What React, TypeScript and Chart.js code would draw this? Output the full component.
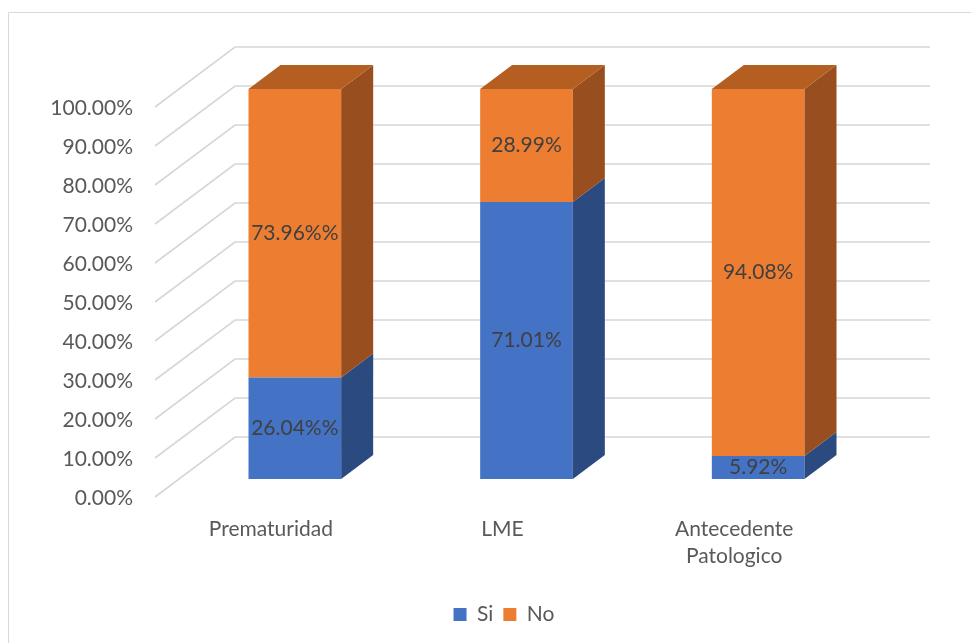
import { useEffect, useRef } from 'react';
import { Chart, registerables } from 'chart.js';

Chart.register(...registerables);

// Categories and series values (percent)
const categories = [['Prematuridad'], ['LME'], ['Antecedente', 'Patologico']];
const seriesNames = ['Si', 'No'];
const siValues = [26.04, 71.01, 5.92];
const noValues = [73.96, 28.99, 94.08];
const siLabels = ['26.04%%', '71.01%', '5.92%'];
const noLabels = ['73.96%%', '28.99%', '94.08%'];
const yMin = 0;
const yMax = 100;
const yStep = 10;

// Face colours: front, side, top
const BLUE = { front: '#4472C4', side: '#2B4A7F', top: '#3A62AA' };
const ORANGE = { front: '#ED7D31', side: '#984E1E', top: '#B45E22' };

// Pseudo-3D depth: gap in front of the bars, bar depth, total floor depth (vertical px)
const FRONT_GAP = 18;
const BAR_DEPTH = 24;
const FLOOR_DEPTH = 60;
const SLOPE = 4 / 3; // horizontal px per vertical px of depth

const FONT = 'Lato';

const framePlugin = {
  id: 'frame',
  beforeDraw(chart: any) {
    const { ctx, width, height } = chart;
    ctx.save();
    ctx.strokeStyle = '#D9D9D9';
    ctx.lineWidth = 1;
    ctx.beginPath();
    ctx.moveTo(8.5, height);
    ctx.lineTo(8.5, 12.5);
    ctx.lineTo(width, 12.5);
    ctx.stroke();
    ctx.restore();
  },
};

const wallGridPlugin = {
  id: 'wallGrid',
  beforeDatasetsDraw(chart: any) {
    const { ctx, chartArea, scales } = chart;
    const y = scales.y;
    const backDy = FLOOR_DEPTH - FRONT_GAP;
    const frontDx = FRONT_GAP * SLOPE;
    const backDx = backDy * SLOPE;
    ctx.save();
    ctx.strokeStyle = '#D6D6D6';
    ctx.lineWidth = 1.6;
    y.ticks.forEach((t: any) => {
      const py = y.getPixelForValue(t.value);
      ctx.beginPath();
      ctx.moveTo(chartArea.left - frontDx, py + FRONT_GAP);
      ctx.lineTo(chartArea.left + backDx, py - backDy);
      ctx.lineTo(chartArea.right + backDx, py - backDy);
      ctx.stroke();
    });
    ctx.restore();
  },
};

const barFacesPlugin = {
  id: 'barFaces',
  afterDatasetsDraw(chart: any) {
    const { ctx } = chart;
    const dx = BAR_DEPTH * SLOPE;
    const dy = BAR_DEPTH;
    const palettes = [BLUE, ORANGE];
    const texts = [siLabels, noLabels];
    const n = chart.data.datasets.length;
    ctx.save();
    // side and top faces
    chart.data.datasets.forEach((_ds: any, di: number) => {
      const meta = chart.getDatasetMeta(di);
      const pal = palettes[di];
      meta.data.forEach((bar: any) => {
        const { x, y, base, width } = bar.getProps(['x', 'y', 'base', 'width'], true);
        const l = x - width / 2;
        const r = x + width / 2;
        ctx.fillStyle = pal.side;
        ctx.beginPath();
        ctx.moveTo(r, y);
        ctx.lineTo(r + dx, y - dy);
        ctx.lineTo(r + dx, base - dy);
        ctx.lineTo(r, base);
        ctx.closePath();
        ctx.fill();
        if (di === n - 1) {
          ctx.fillStyle = pal.top;
          ctx.beginPath();
          ctx.moveTo(l, y);
          ctx.lineTo(l + dx, y - dy);
          ctx.lineTo(r + dx, y - dy);
          ctx.lineTo(r, y);
          ctx.closePath();
          ctx.fill();
        }
      });
    });
    // value labels on the front faces
    ctx.fillStyle = '#404040';
    ctx.font = `21px ${FONT}`;
    ctx.textAlign = 'center';
    ctx.textBaseline = 'middle';
    chart.data.datasets.forEach((_ds: any, di: number) => {
      const meta = chart.getDatasetMeta(di);
      meta.data.forEach((bar: any, i: number) => {
        const { x, y, base } = bar.getProps(['x', 'y', 'base'], true);
        ctx.fillText(texts[di][i], x, (y + base) / 2);
      });
    });
    ctx.restore();
  },
};

export default function App() {
  const canvasRef = useRef<HTMLCanvasElement | null>(null);

  useEffect(() => {
    if (!canvasRef.current) return;
    const chart = new Chart(canvasRef.current, {
      type: 'bar',
      data: {
        labels: categories,
        datasets: [
          {
            label: seriesNames[0],
            data: siValues,
            backgroundColor: BLUE.front,
            borderWidth: 0,
            barPercentage: 0.4,
            categoryPercentage: 1,
          },
          {
            label: seriesNames[1],
            data: noValues,
            backgroundColor: ORANGE.front,
            borderWidth: 0,
            barPercentage: 0.4,
            categoryPercentage: 1,
          },
        ],
      },
      options: {
        animation: false,
        responsive: true,
        maintainAspectRatio: false,
        layout: { padding: { top: 89, left: 37, right: 0, bottom: 8 } },
        scales: {
          x: {
            stacked: true,
            grid: { display: false },
            border: { display: false },
            ticks: {
              color: '#595959',
              font: { family: FONT, size: 21, lineHeight: 27 / 21 },
              padding: 29,
              labelOffset: -FRONT_GAP * SLOPE,
              maxRotation: 0,
              autoSkip: false,
            },
            afterFit: (scale: any) => {
              scale.height = 115;
            },
          },
          y: {
            stacked: true,
            min: yMin,
            max: yMax,
            grid: { display: false },
            border: { display: false },
            ticks: {
              stepSize: yStep,
              color: '#595959',
              font: { family: FONT, size: 21 },
              padding: 38,
              labelOffset: FRONT_GAP + 1,
              callback: (v: any) => `${Number(v).toFixed(2)}%`,
            },
            afterFit: (scale: any) => {
              scale.width = 142;
            },
          },
          yRight: {
            type: 'linear',
            position: 'right',
            display: true,
            grid: { display: false },
            border: { display: false },
            ticks: { display: false },
            afterFit: (scale: any) => {
              scale.width = 97;
            },
          },
        },
        plugins: {
          legend: {
            position: 'bottom',
            labels: {
              color: '#595959',
              font: { family: FONT, size: 21 },
              boxWidth: 13,
              boxHeight: 13,
              padding: 10,
            },
          },
          tooltip: { enabled: false },
        },
      },
      plugins: [framePlugin, wallGridPlugin, barFacesPlugin],
    } as any);
    return () => chart.destroy();
  }, []);

  return (
    <div style={{ position: 'absolute', left: 0, top: 0, width: 971, height: 643 }}>
      <canvas ref={canvasRef} />
    </div>
  );
}
